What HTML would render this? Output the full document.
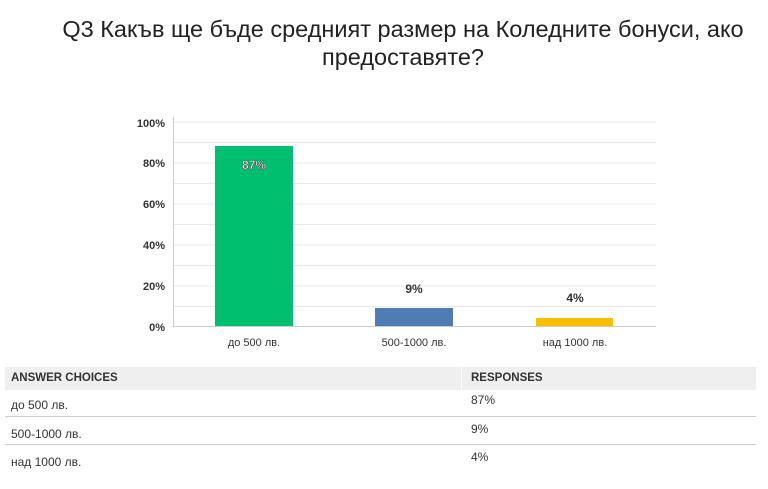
<!DOCTYPE html>
<html><head><meta charset="utf-8"><style>
body{margin:0;width:768px;height:489px;background:#fff;font-family:"Liberation Sans",sans-serif;position:relative;overflow:hidden}
.t{position:absolute;left:0;width:768px;top:15px;text-align:center;font-size:23.5px;line-height:28px;color:#222;padding-left:38px;box-sizing:border-box}
.a{position:absolute;font-size:12px;color:#333}
</style></head><body>
<div class="t">Q3 Какъв ще бъде средният размер на Коледните бонуси, ако<br>предоставяте?</div>
<svg width="768" height="360" style="position:absolute;left:0;top:0" font-family="Liberation Sans, sans-serif">
<g stroke="#e8e8e8" stroke-width="1">
<line x1="174" x2="656" y1="142.5" y2="142.5"/><line x1="174" x2="656" y1="163" y2="163"/><line x1="174" x2="656" y1="183.5" y2="183.5"/><line x1="174" x2="656" y1="204" y2="204"/><line x1="174" x2="656" y1="224.5" y2="224.5"/><line x1="174" x2="656" y1="245" y2="245"/><line x1="174" x2="656" y1="265.5" y2="265.5"/><line x1="174" x2="656" y1="286" y2="286"/><line x1="174" x2="656" y1="306.5" y2="306.5"/><line x1="174" x2="656" y1="122" y2="122"/>
</g>
<line x1="173.5" x2="173.5" y1="117" y2="326" stroke="#ccc"/>
<line x1="173" x2="656" y1="326.5" y2="326.5" stroke="#ccc"/>
<g font-size="11" font-weight="bold" fill="#333" text-anchor="end">
<text x="165" y="127">100%</text><text x="165" y="167">80%</text><text x="165" y="208">60%</text><text x="165" y="249">40%</text><text x="165" y="290">20%</text><text x="165" y="331">0%</text>
</g>
<rect x="215" y="146" width="78" height="180" fill="#00bf6f"/>
<rect x="375" y="308" width="78" height="18" fill="#507cb6"/>
<rect x="536" y="318" width="77" height="8" fill="#f9be00"/>
<g font-size="12" font-weight="bold" text-anchor="middle">
<text x="254" y="169" fill="#fff" stroke="#444" stroke-width="0.5">87%</text>
<text x="414" y="293" fill="#333">9%</text>
<text x="575" y="302" fill="#333">4%</text>
<text x="254" y="346" fill="#333" font-weight="normal" font-size="11">до 500 лв.</text>
<text x="414" y="346" fill="#333" font-weight="normal" font-size="11">500-1000 лв.</text>
<text x="575" y="346" fill="#333" font-weight="normal" font-size="11">над 1000 лв.</text>
</g>
</svg>
<div style="position:absolute;left:5px;top:367px;width:751px;height:23px;background:#efefef"></div>
<div style="position:absolute;left:461px;top:367px;width:1px;height:23px;background:#fff"></div>
<div class="a" style="left:11px;top:372px;font-weight:bold;font-size:11.5px">ANSWER CHOICES</div>
<div class="a" style="left:471px;top:372px;font-weight:bold;font-size:11.5px">RESPONSES</div>
<div class="a" style="left:11px;top:398px">до 500 лв.</div><div class="a" style="left:471px;top:393px">87%</div>
<div style="position:absolute;left:5px;top:416px;width:751px;height:1px;background:#ccc"></div>
<div class="a" style="left:11px;top:427px">500-1000 лв.</div><div class="a" style="left:471px;top:422px">9%</div>
<div style="position:absolute;left:5px;top:444px;width:751px;height:1px;background:#ccc"></div>
<div class="a" style="left:11px;top:455px">над 1000 лв.</div><div class="a" style="left:471px;top:450px">4%</div>
</body></html>
